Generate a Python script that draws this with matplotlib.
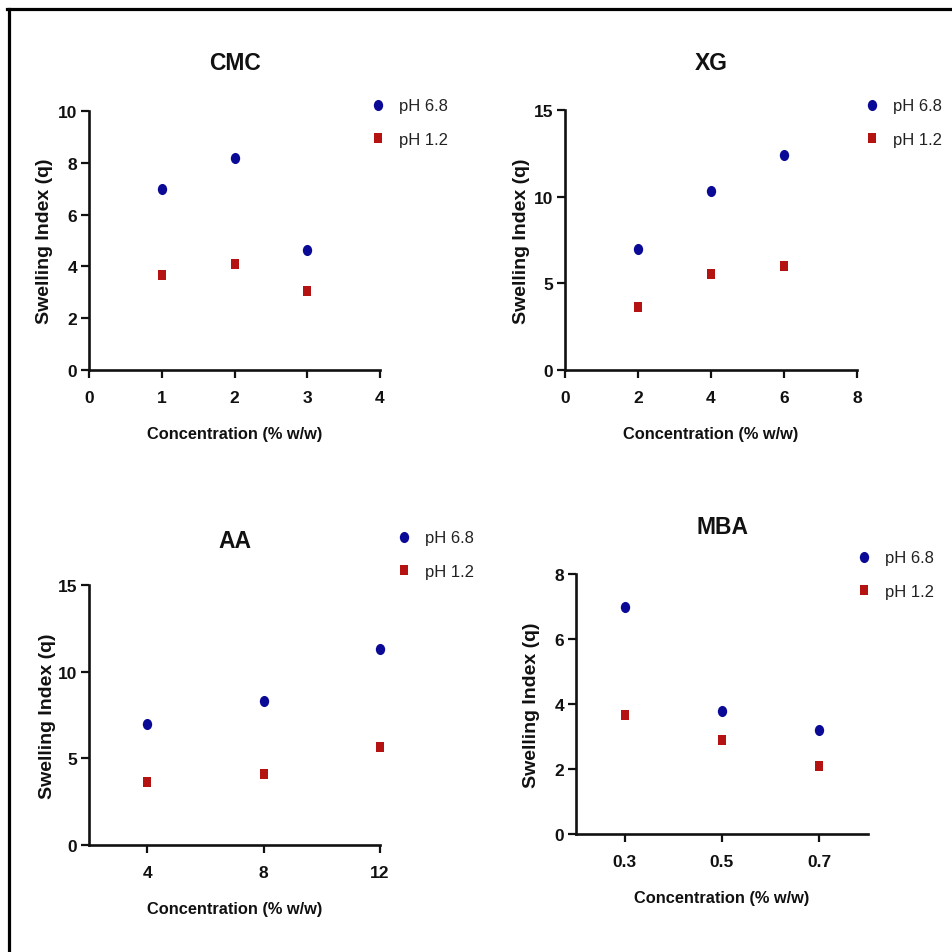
import matplotlib
matplotlib.use("Agg")
import matplotlib.pyplot as plt
from matplotlib import font_manager
from matplotlib.lines import Line2D
from matplotlib.path import Path
import numpy as np

# ---- data ----
panels = ["CMC", "XG", "AA", "MBA"]
cmc_x = [1, 2, 3]
cmc_ph68 = [7.0, 8.2, 4.62]
cmc_ph12 = [3.65, 4.08, 3.04]

xg_x = [2, 4, 6]
xg_ph68 = [7.0, 10.3, 12.4]
xg_ph12 = [3.65, 5.55, 6.0]

aa_x = [4, 8, 12]
aa_ph68 = [7.0, 8.3, 11.3]
aa_ph12 = [3.65, 4.1, 5.65]

mba_x = [0.3, 0.5, 0.7]
mba_ph68 = [7.0, 3.8, 3.2]
mba_ph12 = [3.66, 2.9, 2.1]

series_labels = ["pH 6.8", "pH 1.2"]
ylabel = "Swelling Index (q)"
xlabel = "Concentration (% w/w)"

cmc_xticks = [0, 1, 2, 3, 4]
cmc_yticks = [0, 2, 4, 6, 8, 10]
xg_xticks = [0, 2, 4, 6, 8]
xg_yticks = [0, 5, 10, 15]
aa_xticks = [4, 8, 12]
aa_yticks = [0, 5, 10, 15]
mba_xticks = [0.3, 0.5, 0.7]
mba_yticks = [0, 2, 4, 6, 8]

# ---- fonts ----
names = {f.name for f in font_manager.fontManager.ttflist}
NARROW = "Liberation Sans Narrow" if "Liberation Sans Narrow" in names else "Liberation Sans"
WIDE = "Liberation Sans"

BLUE = "#0A0A96"
RED = "#B51212"

# slightly tall markers (reference is vertically stretched)
circ = Path.unit_circle()
ELLIPSE = Path(circ.vertices * np.array([0.84, 1.0]), circ.codes)
RECT = Path([(-0.42, -0.5), (0.42, -0.5), (0.42, 0.5), (-0.42, 0.5), (-0.42, -0.5)],
            [Path.MOVETO, Path.LINETO, Path.LINETO, Path.LINETO, Path.CLOSEPOLY])

W, H = 952, 953
fig = plt.figure(figsize=(W / 100, H / 100), dpi=100)

def fx(px):
    return px / W

def fy(py):
    return 1 - py / H

# border lines (top and left)
fig.add_artist(Line2D([fx(8.5), fx(8.5)], [fy(9.5), 0], transform=fig.transFigure, color="black", lw=2.3))
fig.add_artist(Line2D([fx(7), 1], [fy(9.5), fy(9.5)], transform=fig.transFigure, color="black", lw=2.3))

specs = [
    ("CMC", cmc_x, cmc_ph68, cmc_ph12, 89, 380, 112, 371, (0, 4), (0, 10), cmc_xticks, cmc_yticks, None, 63, (378, 106), 44),
    ("XG", xg_x, xg_ph68, xg_ph12, 565, 857, 111, 371, (0, 8), (0, 15), xg_xticks, xg_yticks, None, 63, (872, 106), 43),
    ("AA", aa_x, aa_ph68, aa_ph12, 89, 380, 586, 846, (2, 12), (0, 15), aa_xticks, aa_yticks, None, 540, (404, 538), 42),
    ("MBA", mba_x, mba_ph68, mba_ph12, 576, 868, 575, 835, (0.2, 0.8), (0, 8), mba_xticks, mba_yticks,
     ["0.3", "0.5", "0.7"], 527, (864, 558), 45),
]

LEG_FS = 12.0
em = LEG_FS * 100 / 72

for (name, xs, y68, y12, L, R, T, B, xlim, ylim, xt, yt, xtl, ty, (lx, ly), yoff) in specs:
    ax = fig.add_axes([fx(L), fy(B), fx(R) - fx(L), fy(T) - fy(B)])
    ax.set_xlim(*xlim)
    ax.set_ylim(*ylim)
    ax.set_xticks(xt)
    if xtl is not None:
        ax.set_xticklabels(xtl)
    ax.set_yticks(yt)
    for s in ["top", "right"]:
        ax.spines[s].set_visible(False)
    for s in ["left", "bottom"]:
        ax.spines[s].set_linewidth(1.9)
        ax.spines[s].set_color("#111111")
    ax.tick_params(axis="both", direction="out", length=6, width=1.6, color="#111111")
    ax.tick_params(axis="x", pad=8.5)
    ax.tick_params(axis="y", pad=2.5)
    for lab in ax.get_xticklabels() + ax.get_yticklabels():
        lab.set_fontfamily(NARROW)
        lab.set_fontweight("bold")
        lab.set_fontsize(12.5)
        lab.set_color("#111111")

    ax.plot(xs, y68, linestyle="none", marker=ELLIPSE, markersize=8.0, color=BLUE,
            markeredgewidth=0, label=series_labels[0], clip_on=False)
    ax.plot(xs, y12, linestyle="none", marker=RECT, markersize=7.2, color=RED,
            markeredgewidth=0, label=series_labels[1], clip_on=False)

    ax.set_ylabel(ylabel, fontfamily=WIDE, fontweight="bold", fontsize=14.0, color="#111111")
    ax.yaxis.set_label_coords(-yoff / (R - L), 0.5)
    ax.yaxis.label.set_va("center")
    ax.set_xlabel(xlabel, fontfamily=NARROW, fontweight="bold", fontsize=11.8, color="#111111")
    ax.xaxis.set_label_coords(0.5, -64 / (B - T))
    ax.xaxis.label.set_va("center")

    fig.text(fx((L + R) / 2), fy(ty + 1), name, ha="center", va="center",
             fontfamily=WIDE, fontweight="bold", fontsize=16.5, color="#111111")

    leg = ax.legend(loc="center left", bbox_to_anchor=(fx(lx - em / 2), fy(ly + 17.5)),
                    bbox_transform=fig.transFigure, frameon=False,
                    handlelength=1.0, handletextpad=0.75, labelspacing=1.1,
                    borderpad=0, borderaxespad=0,
                    prop={"family": NARROW, "size": LEG_FS})
    for t in leg.get_texts():
        t.set_color("#222222")

fig.savefig("out.png", dpi=100, facecolor="white")
